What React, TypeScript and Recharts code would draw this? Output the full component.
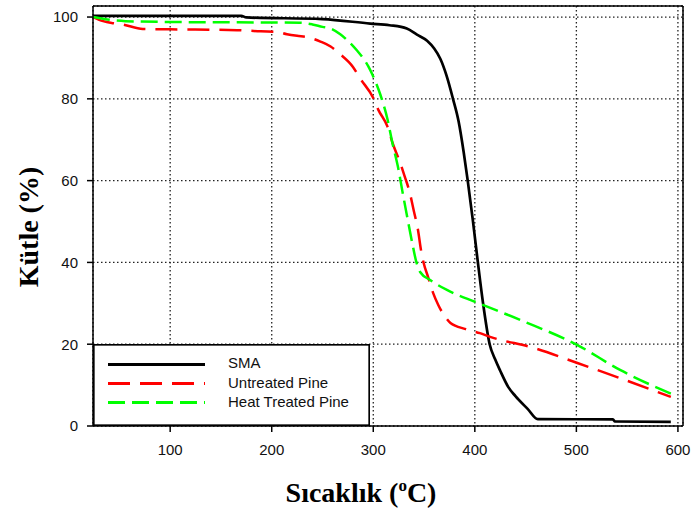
import {
  LineChart,
  Line,
  XAxis,
  YAxis,
  CartesianGrid,
  ReferenceLine,
  Legend,
  Label,
} from 'recharts';

// SMA (black, solid)
const smaTemp = [24, 170, 175, 250, 297, 316, 333, 343, 353, 360, 366, 372, 378.5, 384, 389, 393, 398, 403, 408, 414.6, 420, 425, 433, 440, 452, 462, 536, 538, 593];
const smaMass = [100.3, 100.3, 99.9, 99.5, 98.4, 98, 97.2, 95.7, 94.2, 92.3, 89.8, 85.8, 80, 74.5, 67, 60, 50.4, 40, 30.2, 20, 16.3, 13.5, 9.5, 7.3, 4.2, 1.7, 1.6, 1.1, 1.0];

// Untreated Pine (red, dashed)
const untreatedTemp = [24, 34, 44, 53, 73, 100, 166, 189, 205, 215, 225, 235, 248, 258, 267, 280, 287, 300, 305, 314, 319, 326.6, 331, 336, 340, 344, 347, 349.5, 354, 359, 364, 370, 376, 391, 405, 415, 458, 501, 543, 593];
const untreatedMass = [100, 99, 98.5, 98.2, 97.1, 97, 96.8, 96.5, 96.4, 95.8, 95.4, 95.1, 94, 92.8, 91, 87.8, 85, 80.2, 77.3, 73.2, 69.2, 64.3, 61, 57, 52.5, 48, 43, 40, 36.4, 32.5, 29.6, 27, 25.2, 23.7, 22.7, 21.8, 19.1, 15.4, 11.7, 7.1];

// Heat Treated Pine (green, dashed)
const heatTemp = [24, 38, 56, 100, 228, 240, 250, 258, 267.5, 275, 284, 295, 299, 307, 314, 319, 324.6, 328.6, 333.5, 338.4, 342.4, 346.3, 356, 373, 401, 445, 501, 543, 596];
const heatMass = [100, 99.4, 99, 98.8, 98.6, 98.2, 97.6, 97.2, 95.8, 94.2, 91.8, 88, 86, 81, 75, 69, 63, 57.5, 51, 44.7, 40.1, 37.6, 35.7, 33.2, 30.3, 25.9, 19.8, 13.7, 7.6];

const xTicks = [100, 200, 300, 400, 500, 600];
const yTicks = [0, 20, 40, 60, 80, 100];

const X_MIN = 24;
const X_MAX = 605;
const Y_MAX = 102.7;

const toRows = (temps: number[], mass: number[]) => temps.map((t, i) => ({t, m: mass[i]}));

const series = [
  {id: 'sma', name: 'SMA', color: '#000000', dash: undefined as string | undefined, width: 2.7, data: toRows(smaTemp, smaMass)},
  {id: 'untreated', name: 'Untreated Pine', color: '#ff0000', dash: '22 10', width: 2.5, data: toRows(untreatedTemp, untreatedMass)},
  {id: 'heat', name: 'Heat Treated Pine', color: '#00ff00', dash: '17 7', width: 2.5, data: toRows(heatTemp, heatMass)},
];

const sans = '"Liberation Sans", Arial, sans-serif';
const serif = '"Liberation Serif", "Times New Roman", serif';

function LegendBox() {
  return (
    <svg width={277} height={82} style={{display: 'block'}}>
      <rect x={0.75} y={0.75} width={275.5} height={80.5} fill="#fff" stroke="#000" strokeWidth={1.8} />
      {series.map((s, i) => (
        <g key={s.id}>
          <line
            x1={15}
            x2={112}
            y1={20.5 + i * 19}
            y2={20.5 + i * 19}
            stroke={s.color}
            strokeWidth={3}
            strokeDasharray={s.dash}
          />
          <text x={135} y={24 + i * 19.5} fontSize={15} fontFamily={sans} fill="#111">
            {s.name}
          </text>
        </g>
      ))}
    </svg>
  );
}

export default function App() {
  return (
    <div style={{position: 'absolute', left: 0, top: 0, background: '#fff'}}>
      <LineChart width={692} height={516} margin={{top: 6, right: 9, bottom: 0, left: 0}}>
        <CartesianGrid stroke="#222" strokeDasharray="1.5 2.5" strokeWidth={1.3} />
        <XAxis
          dataKey="t"
          type="number"
          domain={[X_MIN, X_MAX]}
          ticks={xTicks}
          allowDataOverflow
          height={90}
          stroke="#000"
          strokeWidth={1.5}
          tickSize={6}
          tickMargin={12}
          tick={{fill: '#111', fontSize: 15, fontFamily: sans}}
        >
          <Label
            content={() => (
              <text x={361} y={502} textAnchor="middle" fontSize={28} fontWeight="bold" fontFamily={serif} fill="#000">
                Sıcaklık (
                <tspan fontSize={17} dy={-11}>o</tspan>
                <tspan dy={11}>C)</tspan>
              </text>
            )}
          />
        </XAxis>
        <YAxis
          type="number"
          domain={[0, Y_MAX]}
          ticks={yTicks}
          allowDataOverflow
          width={93}
          stroke="#000"
          strokeWidth={1.5}
          tickSize={6}
          tickMargin={9}
          tick={{fill: '#111', fontSize: 15, fontFamily: sans}}
        >
          <Label
            content={() => (
              <text
                x={38}
                y={227}
                transform="rotate(-90 38 227)"
                textAnchor="middle"
                fontSize={28}
                fontWeight="bold"
                fontFamily={serif}
                fill="#000"
              >
                Kütle (%)
              </text>
            )}
          />
        </YAxis>
        <ReferenceLine y={Y_MAX} stroke="#000" strokeWidth={1.5} />
        <ReferenceLine x={X_MAX} stroke="#000" strokeWidth={1.5} />
        {series.map((s) => (
          <Line
            key={s.id}
            data={s.data}
            dataKey="m"
            name={s.name}
            type="monotone"
            stroke={s.color}
            strokeWidth={s.width}
            strokeDasharray={s.dash}
            dot={false}
            activeDot={false}
            isAnimationActive={false}
          />
        ))}
        <Legend
          layout="horizontal"
          verticalAlign="middle"
          align="center"
          content={() => <LegendBox />}
          wrapperStyle={{left: 93, top: 344, width: 277, height: 82}}
        />
      </LineChart>
    </div>
  );
}
